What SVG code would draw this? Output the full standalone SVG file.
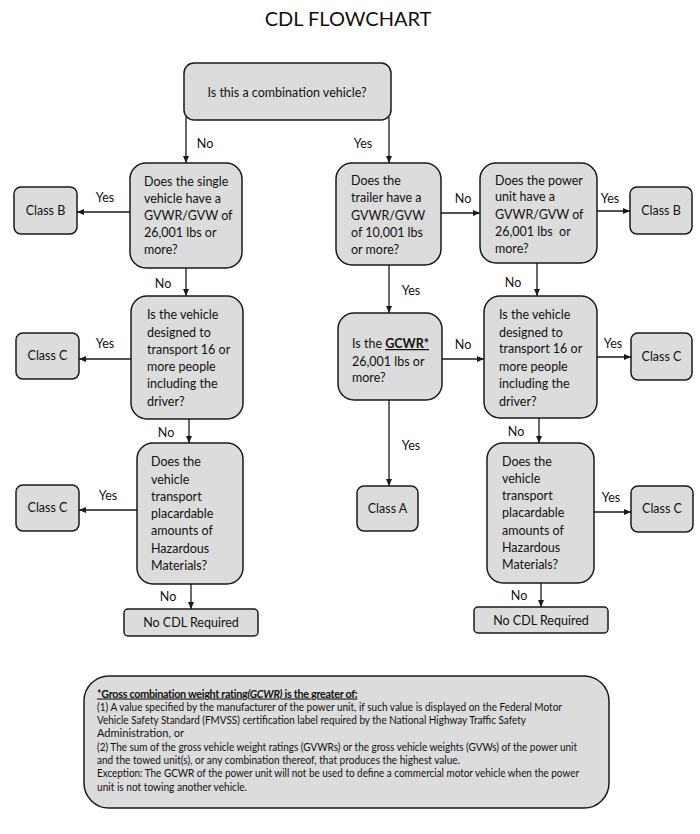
<svg xmlns="http://www.w3.org/2000/svg" width="700" height="834" viewBox="0 0 700 834">
<defs>
<marker id="ah" markerWidth="7" markerHeight="6" refX="7" refY="3" orient="auto" markerUnits="userSpaceOnUse">
<path d="M0,0 L7,3 L0,6 Z" fill="#1a1a1a"/>
</marker>
<style>
.box{fill:#dcdcdc;stroke:#1a1a1a;stroke-width:1.5}
.t{font-family:Lato,"Liberation Sans",sans-serif;font-size:12.5px;fill:#111}
.c{text-anchor:middle}
.lbl{font-family:Lato,"Liberation Sans",sans-serif;font-size:12.5px;fill:#111;text-anchor:middle}
.con{fill:none;stroke:#1a1a1a;stroke-width:1.3;marker-end:url(#ah)}
.n{font-family:Lato,"Liberation Sans",sans-serif;font-size:11px;fill:#111}
.h{font-family:Lato,"Liberation Sans",sans-serif;font-size:10.8px;fill:#111;font-weight:bold;text-decoration:underline;letter-spacing:-0.3px}
</style>
</defs>
<rect width="700" height="834" fill="#ffffff"/>
<text x="348" y="26" class="t c" style="font-size:20px">CDL FLOWCHART</text>

<g id="q-combination">
<rect class="box" x="184" y="63" width="207" height="57" rx="10"/>
<text class="t c" x="287" y="97">Is this a combination vehicle?</text>
</g>

<g id="q-single-gvwr">
<rect class="box" x="130" y="163" width="112" height="105" rx="16"/>
<text class="t" x="144" y="186">Does the single</text>
<text class="t" x="144" y="203">vehicle have a</text>
<text class="t" x="144" y="220">GVWR/GVW of</text>
<text class="t" x="144" y="237">26,001 lbs or</text>
<text class="t" x="144" y="254">more?</text>
</g>
<g id="classB-left">
<rect class="box" x="14" y="187" width="63" height="47" rx="7"/>
<text class="t c" x="45.5" y="215">Class B</text>
</g>
<g id="q-passengers-left">
<rect class="box" x="131" y="296" width="112" height="123" rx="16"/>
<text class="t" x="147" y="319">Is the vehicle</text>
<text class="t" x="147" y="337">designed to</text>
<text class="t" x="147" y="354">transport 16 or</text>
<text class="t" x="147" y="371">more people</text>
<text class="t" x="147" y="388">including the</text>
<text class="t" x="147" y="406">driver?</text>
</g>
<g id="classC-left-1">
<rect class="box" x="16" y="333" width="63" height="46" rx="7"/>
<text class="t c" x="47.5" y="360">Class C</text>
</g>
<g id="q-hazmat-left">
<rect class="box" x="137" y="443" width="106" height="141" rx="16"/>
<text class="t" x="151" y="466">Does the</text>
<text class="t" x="151" y="484">vehicle</text>
<text class="t" x="151" y="501">transport</text>
<text class="t" x="151" y="518">placardable</text>
<text class="t" x="151" y="535">amounts of</text>
<text class="t" x="151" y="553">Hazardous</text>
<text class="t" x="151" y="570">Materials?</text>
</g>
<g id="classC-left-2">
<rect class="box" x="16" y="485" width="63" height="46" rx="7"/>
<text class="t c" x="47.5" y="512">Class C</text>
</g>
<g id="nocdl-left">
<rect class="box" x="124" y="609" width="134" height="27" rx="4"/>
<text class="t c" x="191" y="627">No CDL Required</text>
</g>

<g id="q-trailer">
<rect class="box" x="336" y="163" width="105" height="102" rx="16"/>
<text class="t" x="351" y="185">Does the</text>
<text class="t" x="351" y="202">trailer have a</text>
<text class="t" x="351" y="220">GVWR/GVW</text>
<text class="t" x="351" y="237">of 10,001 lbs</text>
<text class="t" x="351" y="254">or more?</text>
</g>
<g id="q-power-unit">
<rect class="box" x="480" y="163" width="117" height="100" rx="16"/>
<text class="t" x="495" y="185">Does the power</text>
<text class="t" x="495" y="201">unit have a</text>
<text class="t" x="495" y="219">GVWR/GVW of</text>
<text class="t" x="495" y="236" xml:space="preserve">26,001 lbs  or</text>
<text class="t" x="495" y="253">more?</text>
</g>
<g id="classB-right">
<rect class="box" x="630" y="187" width="62" height="47" rx="7"/>
<text class="t c" x="661" y="215">Class B</text>
</g>
<g id="q-gcwr">
<rect class="box" x="338" y="313" width="104" height="87" rx="16"/>
<text class="t" x="352" y="348">Is the <tspan font-weight="bold" text-decoration="underline">GCWR*</tspan></text>
<text class="t" x="352" y="366">26,001 lbs or</text>
<text class="t" x="352" y="382">more?</text>
</g>
<g id="classA">
<rect class="box" x="357" y="486" width="61" height="45" rx="7"/>
<text class="t c" x="387.5" y="513">Class A</text>
</g>
<g id="q-passengers-right">
<rect class="box" x="484" y="296" width="113" height="122" rx="16"/>
<text class="t" x="499" y="319">Is the vehicle</text>
<text class="t" x="499" y="337">designed to</text>
<text class="t" x="499" y="353">transport 16 or</text>
<text class="t" x="499" y="371">more people</text>
<text class="t" x="499" y="388">including the</text>
<text class="t" x="499" y="406">driver?</text>
</g>
<g id="classC-right-1">
<rect class="box" x="631" y="333" width="61" height="47" rx="7"/>
<text class="t c" x="661.5" y="361">Class C</text>
</g>
<g id="q-hazmat-right">
<rect class="box" x="487" y="443" width="107" height="140" rx="16"/>
<text class="t" x="502" y="466">Does the</text>
<text class="t" x="502" y="483">vehicle</text>
<text class="t" x="502" y="500">transport</text>
<text class="t" x="502" y="517">placardable</text>
<text class="t" x="502" y="535">amounts of</text>
<text class="t" x="502" y="552">Hazardous</text>
<text class="t" x="502" y="569">Materials?</text>
</g>
<g id="classC-right-2">
<rect class="box" x="631" y="486" width="62" height="46" rx="7"/>
<text class="t c" x="662" y="513">Class C</text>
</g>
<g id="nocdl-right">
<rect class="box" x="474" y="607" width="134" height="26" rx="4"/>
<text class="t c" x="541" y="625">No CDL Required</text>
</g>

<g id="connectors">
<path class="con" d="M186 117 V163"/>
<path class="con" d="M389 117 V163"/>
<path class="con" d="M130 212 H77"/>
<path class="con" d="M186 268 V296"/>
<path class="con" d="M131 359 H79"/>
<path class="con" d="M189 419 V443"/>
<path class="con" d="M137 510 H79"/>
<path class="con" d="M191 584 V609"/>
<path class="con" d="M441 213 H480"/>
<path class="con" d="M597 211 H630"/>
<path class="con" d="M537 263 V296"/>
<path class="con" d="M597 357 H631"/>
<path class="con" d="M389 265 V313"/>
<path class="con" d="M442 359 H484"/>
<path class="con" d="M389 400 V486"/>
<path class="con" d="M539 418 V443"/>
<path class="con" d="M594 512 H631"/>
<path class="con" d="M541 583 V607"/>
<text class="lbl" x="205" y="148">No</text>
<text class="lbl" x="363" y="148">Yes</text>
<text class="lbl" x="105" y="202">Yes</text>
<text class="lbl" x="163" y="288">No</text>
<text class="lbl" x="105" y="348">Yes</text>
<text class="lbl" x="166" y="437">No</text>
<text class="lbl" x="108" y="500">Yes</text>
<text class="lbl" x="168" y="601">No</text>
<text class="lbl" x="463" y="203">No</text>
<text class="lbl" x="610" y="203">Yes</text>
<text class="lbl" x="513" y="287">No</text>
<text class="lbl" x="613" y="348">Yes</text>
<text class="lbl" x="411" y="295">Yes</text>
<text class="lbl" x="463" y="349">No</text>
<text class="lbl" x="411" y="450">Yes</text>
<text class="lbl" x="516" y="436">No</text>
<text class="lbl" x="611" y="502">Yes</text>
<text class="lbl" x="519" y="600">No</text>
</g>

<g id="gcwr-note">
<rect class="box" x="84" y="676" width="525" height="132" rx="25"/>
<text class="h" x="97" y="697.5">*Gross combination weight rating<tspan font-style="italic">(GCWR)</tspan> is the greater of:</text>
<text class="n" x="97" y="710.5" textLength="465" lengthAdjust="spacingAndGlyphs">(1) A value specified by the manufacturer of the power unit, if such value is displayed on the Federal Motor</text>
<text class="n" x="97" y="723.5" textLength="429" lengthAdjust="spacingAndGlyphs">Vehicle Safety Standard (FMVSS) certification label required by the National Highway Traffic Safety</text>
<text class="n" x="97" y="736.5" textLength="87" lengthAdjust="spacingAndGlyphs">Administration, or</text>
<text class="n" x="97" y="750.5" textLength="480" lengthAdjust="spacingAndGlyphs">(2) The sum of the gross vehicle weight ratings (GVWRs) or the gross vehicle weights (GVWs) of the power unit</text>
<text class="n" x="97" y="763.5" textLength="363" lengthAdjust="spacingAndGlyphs">and the towed unit(s), or any combination thereof, that produces the highest value.</text>
<text class="n" x="97" y="776.5" textLength="482" lengthAdjust="spacingAndGlyphs">Exception: The GCWR of the power unit will not be used to define a commercial motor vehicle when the power</text>
<text class="n" x="97" y="790.5" textLength="150" lengthAdjust="spacingAndGlyphs">unit is not towing another vehicle.</text>
</g>
</svg>
